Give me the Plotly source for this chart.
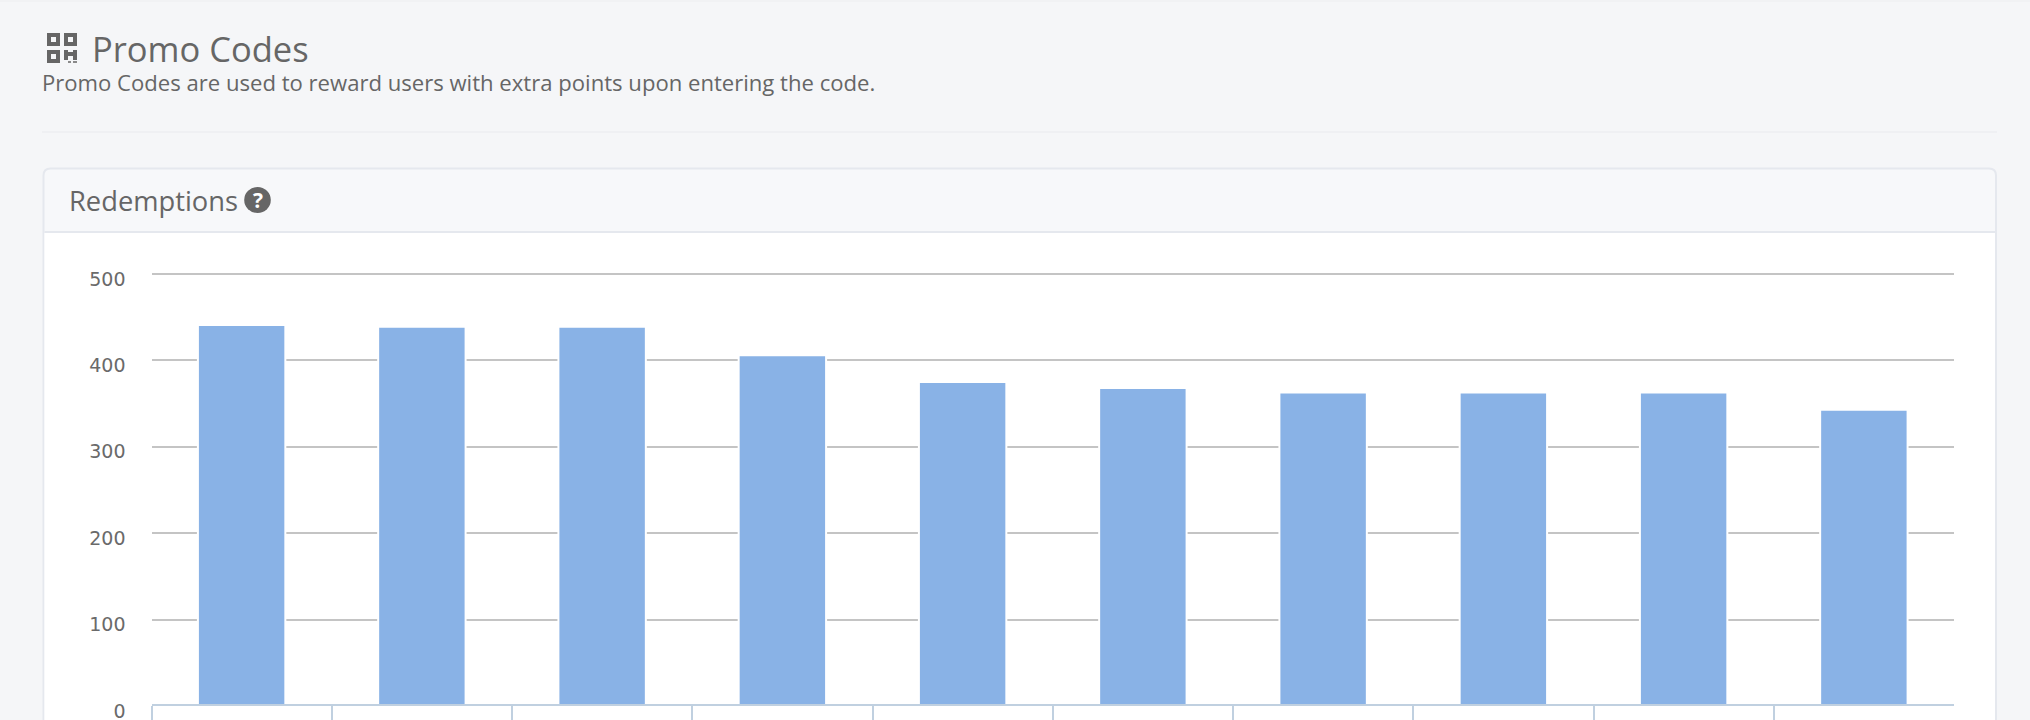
import plotly.graph_objects as go

W, H = 2030, 720

codes = ["Code 1", "Code 2", "Code 3", "Code 4", "Code 5",
         "Code 6", "Code 7", "Code 8", "Code 9", "Code 10"]
redemptions = [441, 439, 439, 406, 375, 368, 363, 363, 363, 343]
y_ticks = [0, 100, 200, 300, 400, 500]

PAGE = "#f5f6f8"
HEAD = "#f7f8fa"
EDGE = "#e5e8ee"
TEXT = "#666666"
ICON = "#666666"
BAR = "#89b2e6"


def px(v):
    return v / W


def py(v):
    return 1 - v / H


def rect(x0, y0, x1, y1, fill):
    return dict(type="rect", xref="paper", yref="paper", layer="below",
                x0=px(x0), x1=px(x1), y0=py(y1), y1=py(y0),
                fillcolor=fill, line=dict(width=0))


def label(x, y, text, size, color=TEXT, anchor="left", family="Open Sans"):
    return dict(xref="paper", yref="paper", x=px(x), y=py(y), text=text,
                showarrow=False, xanchor=anchor, yanchor="middle",
                xshift=0, yshift=0, borderpad=0, borderwidth=0,
                font=dict(family=family, size=size, color=color))


def rounded_panel(x0, y0, x1, y1, r, fill, edge):
    d = (f"M {px(x0)} {py(y1)} L {px(x0)} {py(y0 + r)} "
         f"Q {px(x0)} {py(y0)} {px(x0 + r)} {py(y0)} "
         f"L {px(x1 - r)} {py(y0)} Q {px(x1)} {py(y0)} {px(x1)} {py(y0 + r)} "
         f"L {px(x1)} {py(y1)} Z")
    return dict(type="path", xref="paper", yref="paper", layer="below", path=d,
                fillcolor=fill, line=dict(color=edge, width=2))


shapes = [
    rect(0, 0, W, 2, "#f1f2f4"),
    rect(42, 131, 1997, 133, "#eff0f3"),
    rounded_panel(43.5, 168.5, 1996, 740, 7, HEAD, EDGE),
    rect(44.5, 233, 1995, 720, "#ffffff"),
    rect(44.5, 231, 1995, 233, EDGE),
    # QR icon in the heading
    rect(47, 33, 60, 46, ICON), rect(51, 37, 56, 42, PAGE),
    rect(64, 33, 77, 46, ICON), rect(68, 37, 73, 42, PAGE),
    rect(47, 50, 60, 63, ICON), rect(51, 54, 56, 59, PAGE),
    rect(64, 50, 68, 60, ICON), rect(68, 52, 73, 56, ICON),
    rect(73, 50, 77, 60, ICON), rect(68, 61, 71, 63, "#8a8a8a"),
    rect(73, 61, 77, 63, "#8a8a8a"),
    # help icon beside the panel heading
    dict(type="circle", xref="paper", yref="paper", layer="below",
         x0=px(244.2), x1=px(270.8), y0=py(213), y1=py(187),
         fillcolor=ICON, line=dict(width=0)),
]

annotations = [
    label(92, 49, "Promo Codes", 34.5),
    label(42, 81.5, "Promo Codes are used to reward users with extra points upon entering the code.", 22.1),
    label(69, 200, "Redemptions", 27.3),
    label(257.5, 200, "<b>?</b>", 21, color="#ffffff", anchor="center"),
]

fig = go.Figure(go.Bar(
    x=codes, y=redemptions, width=0.485,
    marker=dict(color=BAR, line=dict(color="#ffffff", width=2)),
    hoverinfo="x+y",
))

fig.update_layout(
    width=W, height=H, margin=dict(l=0, r=0, t=0, b=0, autoexpand=False),
    paper_bgcolor=PAGE, plot_bgcolor="rgba(0,0,0,0)", showlegend=False,
    shapes=shapes, annotations=annotations,
    xaxis=dict(
        domain=[px(151.5), px(1954)], type="category", range=[-0.5, 9.5],
        anchor="free", position=py(705),
        showticklabels=False, showgrid=False, zeroline=False, tickson="boundaries",
        ticks="outside", ticklen=20, tickwidth=2, tickcolor="#c0d0e0",
        showline=True, linecolor="#c0d0e0", linewidth=2,
    ),
    yaxis=dict(
        domain=[py(706), py(272.3)], range=[0, 502], tickmode="array", tickvals=y_ticks,
        showgrid=True, gridcolor="#c4c4c4", gridwidth=2, zeroline=False,
        ticks="", showline=False, ticklabelstandoff=25, ticklabelshift=5,
        ticklabeloverflow="allow",
        tickfont=dict(family="DejaVu Sans", size=19, color="#6a6a6a"),
    ),
)

fig.write_html(
    "out.html",
    config=dict(displayModeBar=False),
    post_script="document.body.style.margin='0';document.body.style.overflow='hidden';",
)
